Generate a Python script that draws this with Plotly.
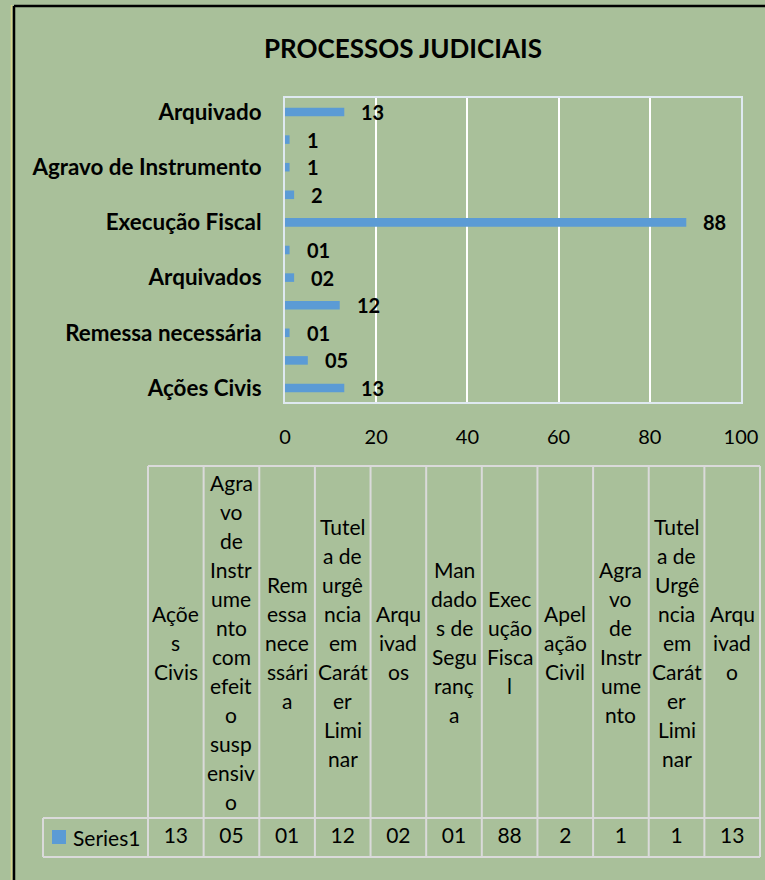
import plotly.graph_objects as go

# data
categories = [
    "Ações Civis",
    "Agravo de Instrumento com efeito suspensivo",
    "Remessa necessária",
    "Tutela de urgência em Caráter Liminar",
    "Arquivados",
    "Mandados de Segurança",
    "Execução Fiscal",
    "Apelação Civil",
    "Agravo de Instrumento",
    "Tutela de Urgência em Caráter Liminar",
    "Arquivado",
]
values = [13, 5, 1, 12, 2, 1, 88, 2, 1, 1, 13]
value_labels = ["13", "05", "01", "12", "02", "01", "88", "2", "1", "1", "13"]
# header text of the data table, wrapped the way Excel wraps it
header_wrapped = [
    "Açõe|s|Civis",
    "Agra|vo|de|Instr|ume|nto|com|efeit|o|susp|ensiv|o",
    "Rem|essa|nece|ssári|a",
    "Tutel|a de|urgê|ncia|em|Carát|er|Limi|nar",
    "Arqu|ivad|os",
    "Man|dado|s de|Segu|ranç|a",
    "Exec|ução|Fisca|l",
    "Apel|ação|Civil",
    "Agra|vo|de|Instr|ume|nto",
    "Tutel|a de|Urgê|ncia|em|Carát|er|Limi|nar",
    "Arqu|ivad|o",
]
x_ticks = [0, 20, 40, 60, 80, 100]
series_name = "Series1"
title = "PROCESSOS JUDICIAIS"

W, H = 765, 880
BG = "#a9c09a"
BLUE = "#5b9bd5"
FONT = "Lato"
TABLE_LINE = "#dadada"


def px(x):
    return x / W


def py(y):
    return 1 - y / H


fig = go.Figure()

fig.add_trace(
    go.Bar(
        x=values,
        y=categories,
        orientation="h",
        marker=dict(color=BLUE, line=dict(width=0)),
        hoverinfo="skip",
        showlegend=False,
    )
)

# bold data labels to the right of each bar
for c, v, t in zip(categories, values, value_labels):
    fig.add_annotation(
        x=v, y=c, xref="x", yref="y", text=t, showarrow=False,
        xanchor="left", xshift=15,
        font=dict(family=FONT, size=20, color="black", weight="bold"),
    )

# ---- data table (second, hidden axis pair in pixel-like units) ----
col_w = (760 - 148) / len(categories)
x2_lo = -148 / col_w - 0.5
x2_hi = (W - 148) / col_w - 0.5

tbl_top, tbl_mid, tbl_bot = 466, 818, 857
row_c = (tbl_mid + tbl_bot) / 2
hdr_c = (tbl_top + tbl_mid) / 2
line_h = 29

fig.add_trace(
    go.Scatter(
        x=categories, y=[row_c] * len(categories), text=value_labels,
        mode="text", xaxis="x2", yaxis="y2", cliponaxis=False,
        textfont=dict(family=FONT, size=21, color="black"),
        hoverinfo="skip", showlegend=False,
    )
)

for c, wrapped in zip(categories, header_wrapped):
    lines = wrapped.split("|")
    n = len(lines)
    for i, ln in enumerate(lines):
        fig.add_annotation(
            x=c, y=hdr_c + (i - (n - 1) / 2) * line_h, xref="x2", yref="y2",
            text=ln, showarrow=False,
            font=dict(family=FONT, size=21, color="black"),
        )

n = len(categories)
legend_left = x2_lo + 43 / col_w
# vertical lines
for i in range(n + 1):
    fig.add_shape(type="line", xref="x2", yref="y2", x0=i - 0.5, x1=i - 0.5,
                  y0=tbl_top, y1=tbl_bot, line=dict(color=TABLE_LINE, width=2))
fig.add_shape(type="line", xref="x2", yref="y2", x0=legend_left, x1=legend_left,
              y0=tbl_mid, y1=tbl_bot, line=dict(color=TABLE_LINE, width=2))
# horizontal lines
fig.add_shape(type="line", xref="x2", yref="y2", x0=-0.5, x1=n - 0.5,
              y0=tbl_top, y1=tbl_top, line=dict(color=TABLE_LINE, width=2))
for yy in (tbl_mid, tbl_bot):
    fig.add_shape(type="line", xref="x2", yref="y2", x0=legend_left, x1=n - 0.5,
                  y0=yy, y1=yy, line=dict(color=TABLE_LINE, width=2))

# legend key + series name
fig.add_shape(type="rect", xref="paper", yref="paper",
              x0=px(52), x1=px(66), y0=py(830), y1=py(844),
              fillcolor=BLUE, line=dict(width=0))
fig.add_annotation(x=px(71), y=py(row_c), xref="paper", yref="paper",
                   text=series_name, showarrow=False, xanchor="left", yanchor="middle",
                   font=dict(family=FONT, size=21, color="black"))

# chart frame (black border top + left) with thin yellowish edge
fig.add_shape(type="line", xref="paper", yref="paper", x0=px(11.5), x1=px(11.5),
              y0=0, y1=py(5), line=dict(color="#d6d48a", width=1.5))
fig.add_shape(type="line", xref="paper", yref="paper", x0=px(14), x1=px(14),
              y0=0, y1=py(6), line=dict(color="black", width=2.5))
fig.add_shape(type="line", xref="paper", yref="paper", x0=px(14), x1=1,
              y0=py(6), y1=py(6), line=dict(color="black", width=2.5))

fig.update_layout(
    width=W, height=H,
    autosize=False,
    margin=dict(l=0, r=0, t=0, b=0, autoexpand=False),
    paper_bgcolor=BG, plot_bgcolor="rgba(0,0,0,0)",
    bargap=0.69,
    showlegend=False,
    title=dict(text=title, x=px(403), xanchor="center", y=py(49), yanchor="middle",
               font=dict(family=FONT, size=26, color="black", weight="bold")),
    xaxis=dict(
        domain=[px(285), px(741)], range=[0, 100], tickvals=x_ticks,
        showgrid=True, gridcolor="#ffffff", gridwidth=1.5,
        showline=True, mirror=True, linecolor="#dfe9f1", linewidth=2,
        zeroline=False, ticks="", ticklabelstandoff=16, automargin=False,
        tickfont=dict(family=FONT, size=20, color="black"),
        fixedrange=True,
    ),
    yaxis=dict(
        domain=[py(402), py(98)], categoryorder="array", categoryarray=categories,
        tickvals=categories[::2], ticktext=categories[::2],
        showgrid=False, showline=True, mirror=True, linecolor="#dfe9f1", linewidth=2,
        zeroline=False, ticks="", ticklabelstandoff=17, automargin=False,
        tickfont=dict(family=FONT, size=22.4, color="black", weight="bold"),
        fixedrange=True,
    ),
    xaxis2=dict(domain=[0, 1], range=[x2_lo, x2_hi], type="category",
                categoryarray=categories, visible=False, anchor="y2",
                automargin=False, fixedrange=True),
    yaxis2=dict(domain=[0, 1], range=[H, 0], visible=False, anchor="x2",
                automargin=False, fixedrange=True),
)

fig.write_html(
    "out.html",
    config={"displayModeBar": False},
    post_script="document.body.style.margin='0';document.body.style.overflow='hidden';",
)
